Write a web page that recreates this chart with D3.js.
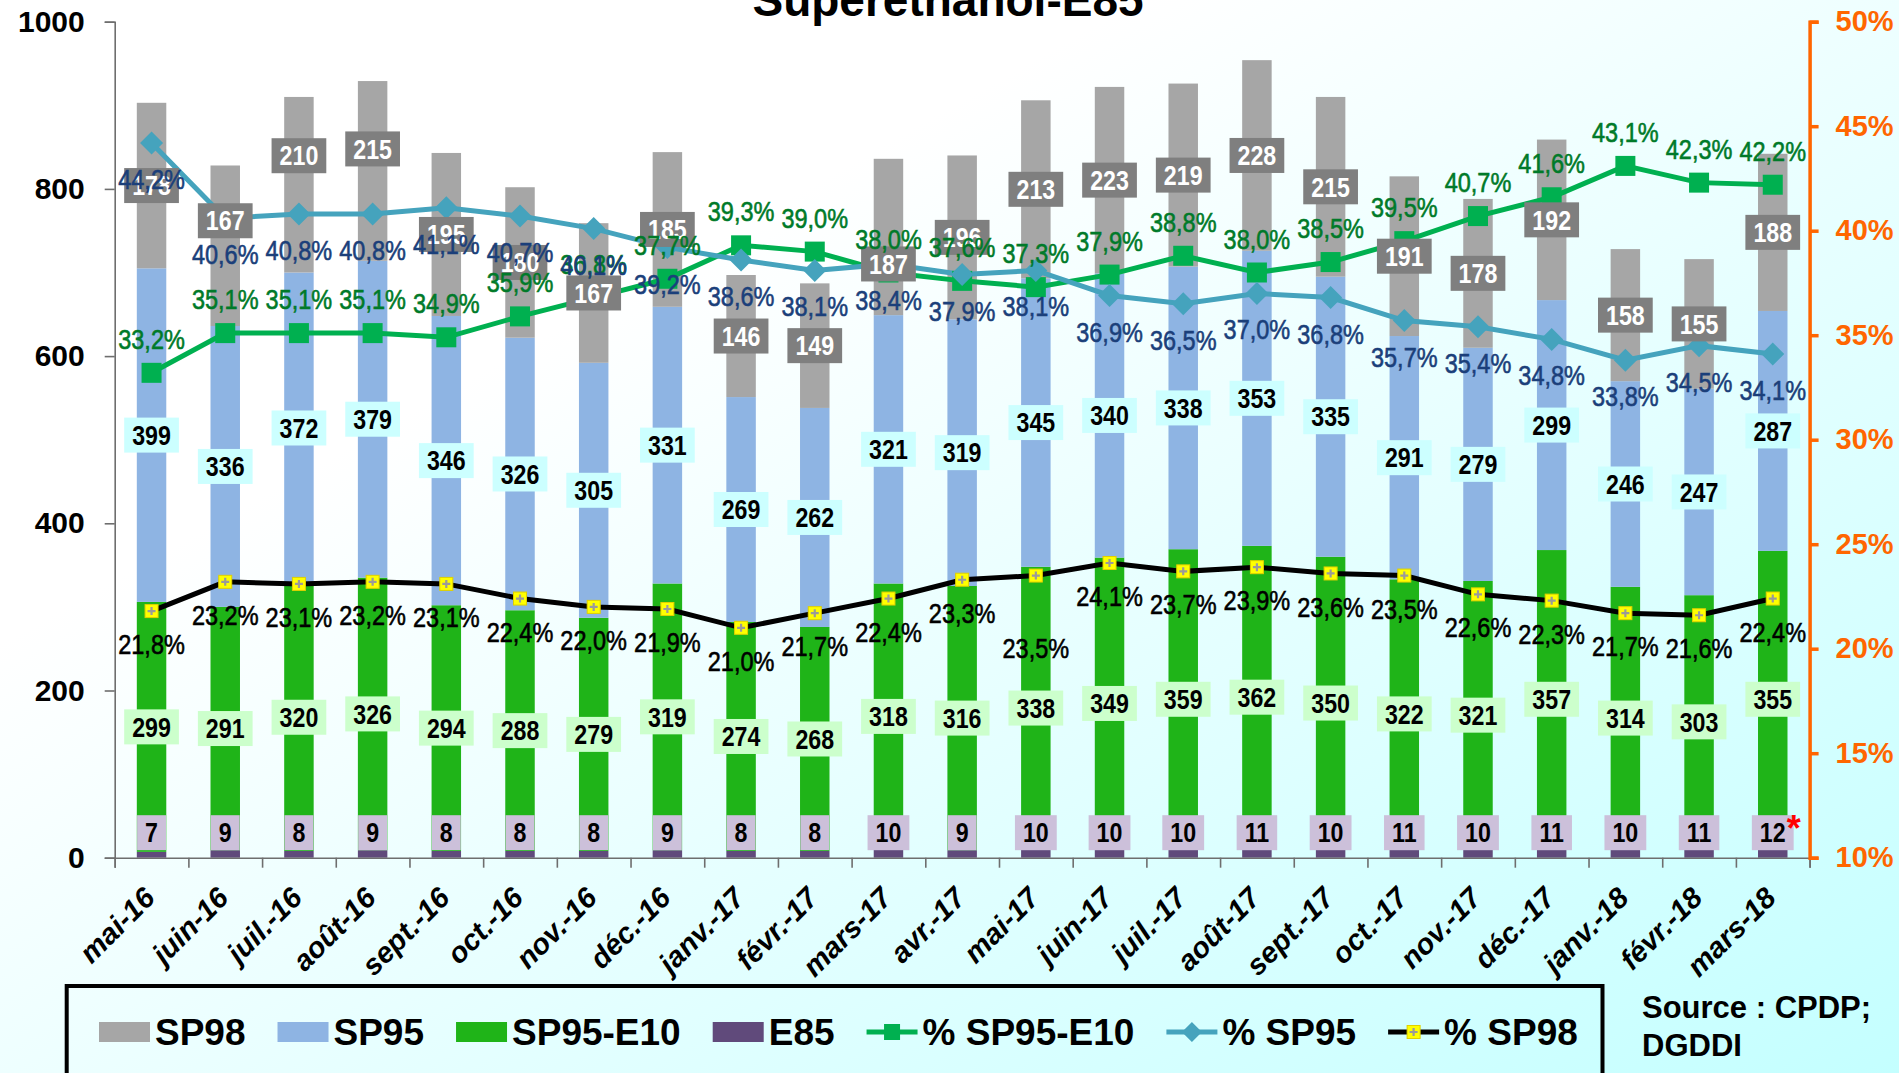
<!DOCTYPE html>
<html>
<head>
<meta charset="utf-8">
<script src="https://cdn.jsdelivr.net/npm/d3@7"></script>
<style>
  body { margin: 0; }
  svg { display: block; font-family: "Liberation Sans", Arial, sans-serif; }
</style>
</head>
<body>
<div class="canvas1"></div>
<script>
// ---- data ----
const months = ["mai-16", "juin-16", "juil.-16", "août-16", "sept.-16", "oct.-16", "nov.-16", "déc.-16",
  "janv.-17", "févr.-17", "mars-17", "avr.-17", "mai-17", "juin-17", "juil.-17", "août-17", "sept.-17",
  "oct.-17", "nov.-17", "déc.-17", "janv.-18", "févr.-18", "mars-18"];

const e85     = [7, 9, 8, 9, 8, 8, 8, 9, 8, 8, 10, 9, 10, 10, 10, 11, 10, 11, 10, 11, 10, 11, 12];
const sp95e10 = [299, 291, 320, 326, 294, 288, 279, 319, 274, 268, 318, 316, 338, 349, 359, 362, 350, 322, 321, 357, 314, 303, 355];
const sp95    = [399, 336, 372, 379, 346, 326, 305, 331, 269, 262, 321, 319, 345, 340, 338, 353, 335, 291, 279, 299, 246, 247, 287];
// bar heights as drawn (first two labels in the source chart do not match their bars)
const sp98    = [198, 192, 210, 215, 195, 180, 167, 185, 146, 149, 187, 196, 213, 223, 219, 228, 215, 191, 178, 192, 158, 155, 188];
const sp98Text = ["178", "167", "210", "215", "195", "180", "167", "185", "146", "149", "187", "196", "213", "223", "219", "228", "215", "191", "178", "192", "158", "155", "188"];

const pctE10  = [33.2, 35.1, 35.1, 35.1, 34.9, 35.9, 36.8, 37.7, 39.3, 39.0, 38.0, 37.6, 37.3, 37.9, 38.8, 38.0, 38.5, 39.5, 40.7, 41.6, 43.1, 42.3, 42.2];
const pctSP95 = [44.2, 40.6, 40.8, 40.8, 41.1, 40.7, 40.1, 39.2, 38.6, 38.1, 38.4, 37.9, 38.1, 36.9, 36.5, 37.0, 36.8, 35.7, 35.4, 34.8, 33.8, 34.5, 34.1];
const pctSP98 = [21.8, 23.2, 23.1, 23.2, 23.1, 22.4, 22.0, 21.9, 21.0, 21.7, 22.4, 23.3, 23.5, 24.1, 23.7, 23.9, 23.6, 23.5, 22.6, 22.3, 21.7, 21.6, 22.4];

const leftTicks  = [0, 200, 400, 600, 800, 1000];
const rightTicks = [10, 15, 20, 25, 30, 35, 40, 45, 50];

// labels that were dragged by hand in the original
const sp98LabelShift = {1: -25, 2: -29, 3: -22, 10: 27};
const pctSP98LabelShift = {12: 39};

// ---- layout ----
const W = 1899, H = 1073;
const margin = { top: 21.7, right: 89.4, bottom: 215.3, left: 114.7 };
const width = W - margin.left - margin.right;
const height = H - margin.top - margin.bottom;

const svg = d3.select(".canvas1").append("svg")
    .attr("width", W)
    .attr("height", H);

// background gradient white -> light cyan
const grad = svg.append("defs").append("linearGradient")
    .attr("id", "bg").attr("x1", 0).attr("y1", 0).attr("x2", 1).attr("y2", 1);
grad.append("stop").attr("offset", "0%").attr("stop-color", "#ffffff");
grad.append("stop").attr("offset", "30%").attr("stop-color", "#ffffff");
grad.append("stop").attr("offset", "100%").attr("stop-color", "#c4ffff");
svg.append("rect").attr("width", W).attr("height", H).attr("fill", "url(#bg)");

const g = svg.append("g")
    .attr("transform", "translate(" + margin.left + "," + margin.top + ")");

// scales
const x = d3.scaleBand().domain(months).range([0, width]).paddingInner(0.6).paddingOuter(0.3);
const xi = d3.scaleLinear().domain([0, months.length]).range([0, width]);
const y = d3.scaleLinear().domain([0, 1000]).range([height, 0]);
const y2 = d3.scaleLinear().domain([10, 50]).range([height, 0]);
const cx = m => x(m) + x.bandwidth() / 2;
const fmtPct = d => d3.format(".1f")(d).replace(".", ",") + "%";

// ---- stacked bars ----
const keys = ["E85", "SP95-E10", "SP95", "SP98"];
const colors = { "E85": "#604a7b", "SP95-E10": "#1fb418", "SP95": "#8eb4e3", "SP98": "#a6a6a6" };
const rows = months.map((m, i) => ({ month: m, "E85": e85[i], "SP95-E10": sp95e10[i], "SP95": sp95[i], "SP98": sp98[i] }));
const stacked = d3.stack().keys(keys)(rows);

g.selectAll(".layer")
  .data(stacked)
  .enter().append("g")
    .attr("fill", d => colors[d.key])
  .selectAll("rect")
  .data(d => d)
  .enter().append("rect")
    .attr("x", d => x(d.data.month))
    .attr("width", x.bandwidth())
    .attr("y", d => y(d[1]))
    .attr("height", d => y(d[0]) - y(d[1]));

// ---- axes ----
const yAxis = g.append("g")
    .call(d3.axisLeft(y).tickValues(leftTicks).tickSize(10).tickPadding(20).tickFormat(d3.format("d")));
yAxis.selectAll("path, line").attr("stroke", "#6e6e6e").attr("stroke-width", 1.6);
yAxis.selectAll("text").style("font-size", "30px").style("font-weight", "bold").attr("fill", "#000");

const xAxis = g.append("g")
    .attr("transform", "translate(0," + height + ")")
    .call(d3.axisBottom(xi).tickValues(d3.range(0, months.length + 1)).tickSize(10).tickFormat(""));
xAxis.selectAll("path, line").attr("stroke", "#6e6e6e").attr("stroke-width", 1.6);

g.append("g").selectAll("text")
  .data(months)
  .enter().append("text")
    .attr("transform", d => "translate(" + (cx(d) + 5) + "," + (height + 42) + ") rotate(-45)")
    .attr("text-anchor", "end")
    .style("font-size", "29px")
    .style("font-weight", "bold")
    .style("font-style", "italic")
    .text(d => d);

const rAxis = g.append("g")
    .attr("transform", "translate(" + width + ",0)")
    .call(d3.axisRight(y2).tickValues(rightTicks).tickSize(9).tickPadding(17).tickFormat(d => d + "%"));
rAxis.selectAll("path, line").attr("stroke", "#ff6600").attr("stroke-width", 3.5);
rAxis.selectAll("text").style("font-size", "29px").style("font-weight", "bold").attr("fill", "#ff6600");

// ---- percentage lines ----
const line = d3.line().x((d, i) => cx(months[i])).y(d => y2(d));

g.append("path").datum(pctE10).attr("d", line)
    .attr("fill", "none").attr("stroke", "#00b050").attr("stroke-width", 5);
g.append("path").datum(pctSP95).attr("d", line)
    .attr("fill", "none").attr("stroke", "#45a3bd").attr("stroke-width", 5);
g.append("path").datum(pctSP98).attr("d", line)
    .attr("fill", "none").attr("stroke", "#000").attr("stroke-width", 5);

const squareMark = (sel, s) => sel.append("rect").attr("x", -s / 2).attr("y", -s / 2).attr("width", s).attr("height", s);
const diamondMark = (sel, s) => sel.append("path").attr("d", "M0," + (-s) + "L" + s + ",0L0," + s + "L" + (-s) + ",0Z");
const sp98Mark = sel => {
  sel.append("rect").attr("x", -6.5).attr("y", -6.5).attr("width", 13).attr("height", 13)
      .attr("fill", "#ffff00").attr("stroke", "#e0d000").attr("stroke-width", 1);
  sel.append("path").attr("d", "M-4,0H4M0,-4V4").attr("stroke", "#9a9a9a").attr("stroke-width", 2.2);
};

g.append("g").selectAll("g").data(pctE10).enter().append("g")
    .attr("transform", (d, i) => "translate(" + cx(months[i]) + "," + y2(d) + ")")
    .attr("fill", "#00b050")
    .each(function() { squareMark(d3.select(this), 20); });
g.append("g").selectAll("g").data(pctSP95).enter().append("g")
    .attr("transform", (d, i) => "translate(" + cx(months[i]) + "," + y2(d) + ")")
    .attr("fill", "#45a3bd")
    .each(function() { diamondMark(d3.select(this), 11.5); });
g.append("g").selectAll("g").data(pctSP98).enter().append("g")
    .attr("transform", (d, i) => "translate(" + cx(months[i]) + "," + y2(d) + ")")
    .each(function() { sp98Mark(d3.select(this)); });

// ---- bar labels (boxes) ----
// the source labels use a narrow face: squeeze Liberation Sans horizontally
const labelLayer = g.append("g");
function boxLabel(px, py, txt, fill, color) {
  const lg = labelLayer.append("g");
  const t = lg.append("text")
      .attr("transform", "translate(" + px + "," + py + ") scale(0.86,1)")
      .attr("dy", "0.36em")
      .attr("text-anchor", "middle")
      .style("font-size", "27px").style("font-weight", "bold")
      .attr("fill", color)
      .text(txt);
  const w = t.node().getComputedTextLength() * 0.86 + 16;
  lg.insert("rect", "text")
      .attr("x", px - w / 2).attr("y", py - 17.5)
      .attr("width", w).attr("height", 35)
      .attr("fill", fill);
  return { x: px + w / 2, y: py - 17.5 };
}

let lastE85Box;
stacked.forEach(layer => {
  layer.forEach((d, i) => {
    const px = cx(months[i]);
    if (layer.key === "E85") {
      lastE85Box = boxLabel(px, y(0) - 25, d.data["E85"], "#ccc0da", "#000");
    } else if (layer.key === "SP95-E10") {
      boxLabel(px, (y(d[0]) + y(d[1])) / 2, d.data["SP95-E10"], "#ccffcc", "#000");
    } else if (layer.key === "SP95") {
      boxLabel(px, (y(d[0]) + y(d[1])) / 2, d.data["SP95"], "#ccffff", "#000");
    } else {
      boxLabel(px, (y(d[0]) + y(d[1])) / 2 + (sp98LabelShift[i] || 0), sp98Text[i], "#7f7f7f", "#fff");
    }
  });
});

// red asterisk on the last E85 value
labelLayer.append("text")
    .attr("x", lastE85Box.x).attr("y", lastE85Box.y + 26)
    .attr("text-anchor", "middle")
    .style("font-size", "36px").style("font-weight", "bold")
    .attr("fill", "#ff0000")
    .text("*");

// ---- percentage labels ----
function pctLabels(vals, off, color, shifts) {
  labelLayer.append("g").selectAll("text")
    .data(vals)
    .enter().append("text")
      .attr("transform", (d, i) => "translate(" + cx(months[i]) + "," +
            (y2(d) + off + ((shifts && shifts[i]) || 0)) + ") scale(0.84,1)")
      .attr("dy", "0.36em")
      .attr("text-anchor", "middle")
      .style("font-size", "28px")
      .attr("fill", color)
      .attr("stroke", color)
      .attr("stroke-width", 0.6)
      .text(d => fmtPct(d));
}
pctLabels(pctE10, -34, "#007a29");
pctLabels(pctSP95, 36, "#1b3f7a");
pctLabels(pctSP98, 33, "#000", pctSP98LabelShift);

// ---- title ----
svg.append("text")
    .attr("x", 948).attr("y", 16)
    .attr("text-anchor", "middle")
    .style("font-size", "46px").style("font-weight", "bold")
    .text("Superéthanol-E85");

// ---- legend ----
svg.append("rect")
    .attr("x", 66.7).attr("y", 986)
    .attr("width", 1535.8).attr("height", 120)
    .attr("fill", "none").attr("stroke", "#000").attr("stroke-width", 4);

const legendItems = [
  { label: "SP98", type: "bar", color: colors["SP98"] },
  { label: "SP95", type: "bar", color: colors["SP95"] },
  { label: "SP95-E10", type: "bar", color: colors["SP95-E10"] },
  { label: "E85", type: "bar", color: colors["E85"] },
  { label: "% SP95-E10", type: "square", color: "#00b050" },
  { label: "% SP95", type: "diamond", color: "#45a3bd" },
  { label: "% SP98", type: "sp98", color: "#000" }
];
const ly = 1032;
let lx = 99;
legendItems.forEach(it => {
  const lg = svg.append("g");
  if (it.type === "bar") {
    lg.append("rect").attr("x", lx).attr("y", ly - 10).attr("width", 51).attr("height", 20).attr("fill", it.color);
  } else {
    lg.append("line").attr("x1", lx).attr("x2", lx + 51).attr("y1", ly).attr("y2", ly)
        .attr("stroke", it.color).attr("stroke-width", 5);
    const m = lg.append("g").attr("transform", "translate(" + (lx + 25.5) + "," + ly + ")").attr("fill", it.color);
    if (it.type === "square") squareMark(m, 16);
    else if (it.type === "diamond") diamondMark(m, 10);
    else sp98Mark(m);
  }
  const t = lg.append("text")
      .attr("x", lx + 56).attr("y", ly).attr("dy", "0.36em")
      .style("font-size", "37px").style("font-weight", "bold")
      .text(it.label);
  lx += 56 + t.node().getComputedTextLength() + 32;
});

// source
svg.append("text")
    .attr("x", 1642).attr("y", 1018)
    .style("font-size", "31px").style("font-weight", "bold")
    .text("Source : CPDP;");
svg.append("text")
    .attr("x", 1642).attr("y", 1056)
    .style("font-size", "31px").style("font-weight", "bold")
    .text("DGDDI");
</script>
</body>
</html>
